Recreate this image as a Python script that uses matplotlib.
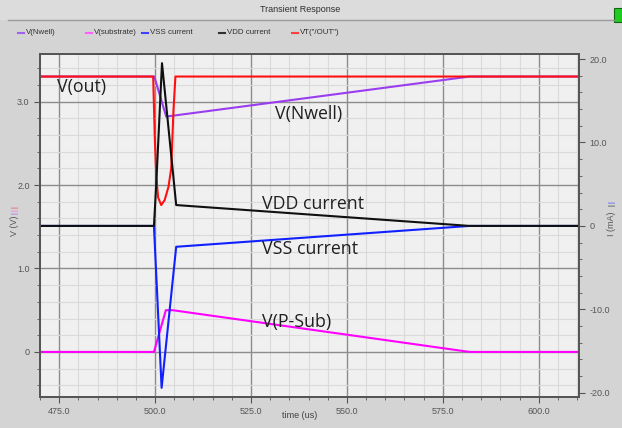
import matplotlib.pyplot as plt
import numpy as np
from matplotlib.lines import Line2D
from matplotlib.patches import Rectangle
from matplotlib.ticker import MultipleLocator, FuncFormatter

# voltages (V) on the left axis
t_nwell = [470, 499.8, 502.9, 582, 610.5]
v_nwell = [3.3, 3.3, 2.82, 3.3, 3.3]

t_sub = [470, 499.7, 502.8, 504.6, 582, 610.5]
v_sub = [0.0, 0.0, 0.5, 0.5, 0.0, 0.0]

t_out = [470, 499.5, 499.9, 500.3, 500.8, 501.6, 502.5, 503.5, 504.2, 504.8, 505.3, 610.5]
v_out = [3.3, 3.3, 2.6, 2.1, 1.85, 1.76, 1.82, 1.98, 2.2, 2.9, 3.3, 3.3]

# currents (mA) on the right axis
t_vss = [470, 499.7, 501.7, 505.5, 582, 610.5]
i_vss = [0.0, 0.0, -19.4, -2.5, 0.0, 0.0]

t_vdd = [470, 499.7, 500.3, 501.8, 505.5, 582, 610.5]
i_vdd = [0.0, 0.0, 5.0, 19.5, 2.5, 0.0, 0.0]

legend_names = ['V(Nwell)', 'V(substrate)', 'VSS current', 'VDD current', 'VT("/OUT")']
legend_colors = ['#a060f0', '#ff60ff', '#4040ff', '#303030', '#ff4040']
legend_x = [18, 86, 142, 219, 292]

c_nwell = '#9a3cf0'
c_sub = '#ff00ff'
c_vss = '#1020ff'
c_vdd = '#101010'
c_out = '#ff1010'

fig = plt.figure(figsize=(6.22, 4.28), dpi=100)
fig.patch.set_facecolor('#d4d4d4')
W, H = 622, 428

# title strip
fig.add_artist(Rectangle((0, (H - 20) / H), 1, 20 / H, transform=fig.transFigure,
                         facecolor='#dcdcdc', edgecolor='none'))
fig.add_artist(Line2D([8 / W, 614 / W], [(H - 20) / H] * 2, transform=fig.transFigure,
                      color='#9a9a9a', lw=1))
fig.add_artist(Rectangle((614 / W, (H - 22) / H), 8 / W, 14 / H, transform=fig.transFigure,
                         facecolor='#22cc22', edgecolor='#116611', lw=0.8))
fig.text(300 / W, (H - 10) / H, 'Transient Response', ha='center', va='center',
         fontsize=6.5, color='#303030', family='Liberation Sans')

# legend row
for name, col, x in zip(legend_names, legend_colors, legend_x):
    fig.add_artist(Line2D([x / W, (x + 6) / W], [(H - 33) / H] * 2,
                          transform=fig.transFigure, color=col, lw=1.5))
    fig.text((x + 8) / W, (H - 33) / H, name, ha='left', va='center',
             fontsize=5.7, color='#303030', family='Liberation Sans')

ax = fig.add_axes([40 / W, (H - 397) / H, (579 - 40) / W, (397 - 54) / H])
ax.set_facecolor('#f0f0f0')
ax2 = ax.twinx()

ax.plot(t_nwell, v_nwell, color=c_nwell, lw=1.5)
ax.plot(t_sub, v_sub, color=c_sub, lw=1.5)
ax2.plot(t_vss, i_vss, color=c_vss, lw=1.5)
ax2.plot(t_vdd, i_vdd, color=c_vdd, lw=1.5)
ax.plot(t_out, v_out, color=c_out, lw=1.5, zorder=5)

ax.set_xlim(470, 610.5)
ax.set_ylim(-0.54, 3.57)
ax2.set_ylim(-20.5, 20.6)

ax.xaxis.set_major_locator(MultipleLocator(25))
ax.xaxis.set_minor_locator(MultipleLocator(5))
ax.yaxis.set_major_locator(MultipleLocator(1))
ax.yaxis.set_minor_locator(MultipleLocator(0.2))
ax2.yaxis.set_major_locator(MultipleLocator(10))
ax2.yaxis.set_minor_locator(MultipleLocator(2))

fmt = FuncFormatter(lambda v, p: '0' if abs(v) < 1e-9 else '%.1f' % v)
ax.xaxis.set_major_formatter(FuncFormatter(lambda v, p: '%.1f' % v))
ax.yaxis.set_major_formatter(fmt)
ax2.yaxis.set_major_formatter(fmt)

ax.grid(True, which='minor', color='#dadada', lw=0.8)
ax.grid(True, which='major', color='#8c8c8c', lw=1.0)
ax.set_axisbelow(True)

for a in (ax, ax2):
    for s in a.spines.values():
        s.set_color('#555555')
        s.set_linewidth(1.3)
    a.tick_params(which='major', length=4, width=0.8, color='#555555',
                  labelsize=6.5, labelcolor='#555555')
    a.tick_params(which='minor', length=2, width=0.6, color='#555555')
    for lab in a.get_xticklabels() + a.get_yticklabels():
        lab.set_family('Liberation Sans')

fig.text(300 / W, (H - 415) / H, 'time (us)', ha='center', va='center',
         fontsize=6.5, color='#404040', family='Liberation Sans')

# axis titles with colour marks
fig.text(15 / W, (H - 226) / H, 'V (V)', rotation=90, ha='center', va='center',
         fontsize=6.5, color='#555555', family='Liberation Sans')
for k, col in enumerate(['#ff4040', '#ff60ff', '#a060f0']):
    fig.text(15 / W, (H - 207 - k * 3) / H, '|', rotation=90, ha='center', va='center',
             fontsize=5, color=col, family='Liberation Sans')
fig.text(612 / W, (H - 224) / H, 'I (mA)', rotation=90, ha='center', va='center',
         fontsize=6.5, color='#555555', family='Liberation Sans')
for k, col in enumerate(['#4040ff', '#303030']):
    fig.text(612 / W, (H - 202 - k * 3) / H, '|', rotation=90, ha='center', va='center',
             fontsize=5, color=col, family='Liberation Sans')

# curve annotations
notes = [('V(out)', 57, 87), ('V(Nwell)', 275, 114), ('VDD current', 262, 204),
         ('VSS current', 262, 249), ('V(P-Sub)', 262, 322)]
for txt, x, y in notes:
    fig.text(x / W, (H - y) / H, txt, ha='left', va='center', fontsize=12.8,
             color='#202020', family='Open Sans')

plt.savefig('out.png', dpi=100, facecolor=fig.get_facecolor())
